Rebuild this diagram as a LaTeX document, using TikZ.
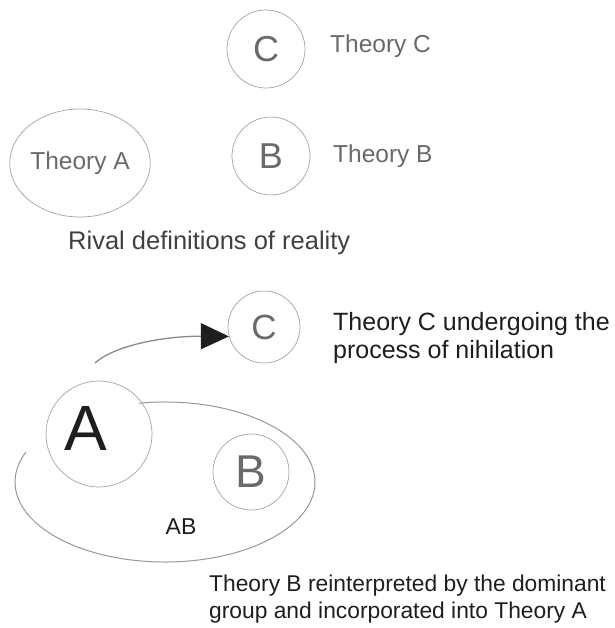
\documentclass[tikz,border=0pt]{standalone}
\usepackage{fontspec}
\setmainfont{Liberation Sans}
\usetikzlibrary{arrows.meta,shapes.geometric}
\definecolor{ringgray}{HTML}{A8A8A8}
\definecolor{labgray}{HTML}{6A6A6A}
\definecolor{arrgray}{HTML}{8A8A8A}
\definecolor{darktext}{HTML}{1E1E1E}
\tikzset{
  ring/.style={draw=ringgray, line width=0.75pt, circle, inner sep=0pt},
  ringell/.style={draw=ringgray, line width=0.75pt, ellipse, inner sep=0pt},
  grayletter/.style={text=labgray, font=\fontsize{36}{40}\selectfont},
  graylabel/.style={text=labgray, font=\fontsize{24.5}{28}\selectfont, inner sep=0pt},
  blacklabel/.style={text=darktext, font=\fontsize{25}{28}\selectfont, inner sep=0pt, align=left},
  smalllabel/.style={text=darktext, font=\fontsize{22.8}{27}\selectfont, inner sep=0pt, align=left},
  bigell/.style={draw=ringgray!90!black, line width=1pt},
  nihil/.style={draw=arrgray, line width=1.3pt, -{Triangle[length=28pt,width=26pt,fill=darktext,color=darktext]}}
}
\begin{document}
\begin{tikzpicture}[x=1pt,y=-1pt]
\useasboundingbox (0,0) rectangle (614,628);
% --- top: rival definitions ---
\node[ring, minimum size=78pt, grayletter] (Ct) at (266,49) {C};
\node[graylabel, anchor=west] (Ctl) at (330,46) {Theory C};
\node[ring, minimum size=78pt, grayletter] (Bt) at (271,156) {B};
\node[graylabel, anchor=west] (Btl) at (333,156) {Theory B};
\node[ringell, minimum width=124pt, minimum height=108pt, graylabel] (At) at (80,163) {Theory A};
\node[text=darktext!85, font=\fontsize{25.5}{28}\selectfont, inner sep=0pt, anchor=west] (rival) at (68,243) {Rival definitions of reality};
% --- bottom ---
\node[ring, minimum size=72pt, text=labgray, font=\fontsize{35}{40}\selectfont] (Cb) at (264,327) {C};
\node[blacklabel, anchor=west] (Cbl) at (333,338) {Theory C undergoing the\\process of nihilation};
\coordinate (astart) at (95,363);
\draw[nihil] (astart) .. controls (115,345) and (165,336) .. (Cb.195);
% big ellipse (drawn as open arc)
\coordinate (ellc) at (165,482);
\draw[bigell] (ellc) ++(260:150 and 80) arc[start angle=260, end angle=562, x radius=150, y radius=80];
\node[ring, minimum size=106pt] (Ab) at (99,434) {};
\node[text=darktext, font=\fontsize{64}{70}\selectfont, inner sep=0pt] (Abl) at (86,428) {A};
\node[ring, minimum size=76pt, text=labgray, font=\fontsize{46}{50}\selectfont] (Bb) at (251,472) {B};
\node[text=darktext, font=\fontsize{23}{26}\selectfont, inner sep=0pt] (AB) at (181,527) {AB};
\node[smalllabel, anchor=west] (Bbl) at (209,599) {Theory B reinterpreted by the dominant\\group and incorporated into Theory A};
\end{tikzpicture}
\end{document}
